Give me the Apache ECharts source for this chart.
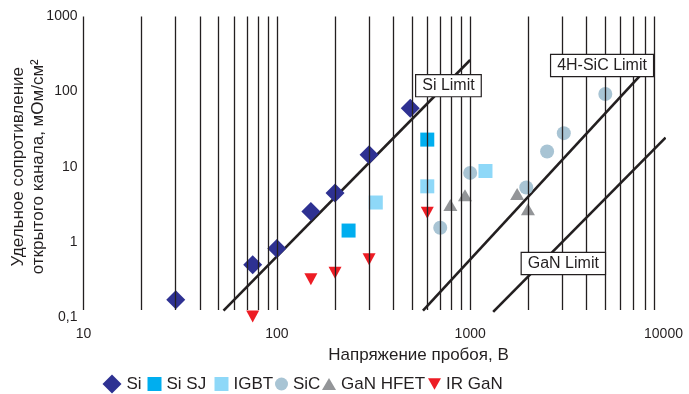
<!DOCTYPE html>
<html>
<head>
<meta charset="utf-8">
<script src="https://cdn.jsdelivr.net/npm/echarts@6/dist/echarts.min.js"></script>
<style>
html,body{margin:0;padding:0;background:#fff;}
#chart{width:689px;height:394px;}
</style>
</head>
<body>
<div id="chart"></div>
<script>
// ---- data (breakdown voltage, V ; specific on-resistance, mOhm*cm2) ----
const xGridValues = [10,20,30,40,50,60,70,80,90,100,200,300,400,500,600,700,800,900,1000,2000,3000,4000,5000,6000,7000,8000,9000];
const yGridValues = [1,10,100];

const siData      = [[30,0.17],[75,0.5],[100,0.82],[150,2.55],[200,4.5],[300,14.5],[490,60]];
const siSJData    = [[235,1.42],[600,23]];
const igbtData    = [[325,3.35],[600,5.5],[1200,8.8]];
const sicData     = [[700,1.55],[1000,8.3],[1950,5.3],[2500,16],[3050,28],[5000,93]];
const ganHfetData = [[790,3.1],[940,4.2],[1750,4.35],[1990,2.72]];
const irGanData   = [[75,0.102],[150,0.32],[200,0.39],[300,0.59],[600,2.45]];

const siLimit  = [[53,0.122],[1000,263]];
const sicLimit = [[570,0.122],[8875,255]];
const ganLimit = [[1315,0.118],[10250,24.4]];

const limitNames = ['Si Limit','4H-SiC Limit','GaN Limit'];
const limitLabelAt = [[772,120],[4810,222],[3033,0.518]];

const legendNames = ['Si','Si SJ','IGBT','SiC','GaN HFET','IR GaN'];

// ---- styling ----
const INK = '#231f20';
const FONT = 'Liberation Sans, Arial, Helvetica, sans-serif';
const downTri = 'path://M0,0L10,0L5,9Z';

const chart = echarts.init(document.getElementById('chart'), null, {renderer:'canvas'});

const gridLines = [];
xGridValues.forEach(v => gridLines.push([{coord:[v,1000]},{coord:[v,0.125]}]));
yGridValues.forEach(v => gridLines.push([{coord:[10,v]},{coord:[10200,v]}]));

function limitSeries(data, idx){
  return {
    type:'line', data:data, symbol:'none', silent:true, z:3, clip:false,
    lineStyle:{color:INK,width:2.6},
    markPoint:{
      silent:true, animation:false,
      symbol:'rect', symbolSize:0,
      data:[{name:limitNames[idx], coord:limitLabelAt[idx]}],
      label:{show:true, position:'inside', formatter:limitNames[idx],
        fontFamily:FONT, fontSize:16, color:INK,
        backgroundColor:'#fff', borderColor:INK, borderWidth:1.2,
        padding:[3,6,2,6]}
    }
  };
}

function scatter(name, data, symbol, size, color){
  return {type:'scatter', name:name, data:data, symbol:symbol, symbolSize:size,
    clip:false, z:4, itemStyle:{color:color, opacity:1}, silent:true};
}

const legendSpec = [
  {name:'Si', left:102.5, w:19, h:19},
  {name:'Si SJ', left:147.5, w:14, h:14},
  {name:'IGBT', left:214.5, w:14, h:14},
  {name:'SiC', left:275, w:13, h:13},
  {name:'GaN HFET', left:322, w:14, h:12},
  {name:'IR GaN', left:428, w:13, h:12}
];

const option = {
  animation:false,
  backgroundColor:'#fff',
  textStyle:{fontFamily:FONT},
  grid:{left:83.5, right:25.5, top:16.4, bottom:76.8, containLabel:false, outerBoundsMode:'none'},
  legend: legendSpec.map(s => ({
    data:[s.name], left:s.left, top:384 - Math.max(s.h,17)/2,
    itemWidth:s.w, itemHeight:s.h, itemGap:0, selectedMode:false,
    padding:0,
    textStyle:{fontFamily:FONT, fontSize:17, color:INK}
  })),
  xAxis:{
    type:'log', logBase:10, min:10, max:10000,
    axisLine:{show:false}, axisTick:{show:false}, splitLine:{show:false},
    axisLabel:{fontFamily:FONT, fontSize:14, color:INK, margin:10,
      formatter:v => String(Math.round(v))},
    name:'Напряжение пробоя, В', nameLocation:'middle', nameGap:30, nameMoveOverlap:false,
    nameTextStyle:{fontFamily:FONT, fontSize:17, color:INK, padding:[0,0,0,90]}
  },
  yAxis:{
    type:'log', logBase:10, min:0.1, max:1000,
    axisLine:{show:false}, axisTick:{show:false}, splitLine:{show:false},
    axisLabel:{fontFamily:FONT, fontSize:14, color:INK, margin:6,
      formatter:v => (v < 1 ? v.toFixed(1) : String(Math.round(v))).replace('.', ',')},
    name:'Удельное сопротивление\nоткрытого канала, мОм/см²',
    nameLocation:'middle', nameRotate:90, nameGap:35, nameMoveOverlap:false,
    nameTextStyle:{fontFamily:FONT, fontSize:17, color:INK, lineHeight:20}
  },
  series:[
    {type:'line', data:[], silent:true, z:1,
      markLine:{silent:true, animation:false, symbol:['none','none'],
        label:{show:false}, lineStyle:{color:INK, width:1.3, type:'solid'},
        emphasis:{disabled:true}, data:gridLines}},
    limitSeries(siLimit,0),
    limitSeries(sicLimit,1),
    limitSeries(ganLimit,2),
    scatter('Si', siData, 'diamond', 19, '#2e3192'),
    scatter('Si SJ', siSJData, 'rect', 14, '#00aeef'),
    scatter('IGBT', igbtData, 'rect', 14, '#8ed8f8'),
    scatter('SiC', sicData, 'circle', 14, '#a8c4d4'),
    scatter('GaN HFET', ganHfetData, 'triangle', [14,12], '#939598'),
    scatter('IR GaN', irGanData, downTri, [13,12], '#ed1c24')
  ]
};
chart.setOption(option);
</script>
</body>
</html>
